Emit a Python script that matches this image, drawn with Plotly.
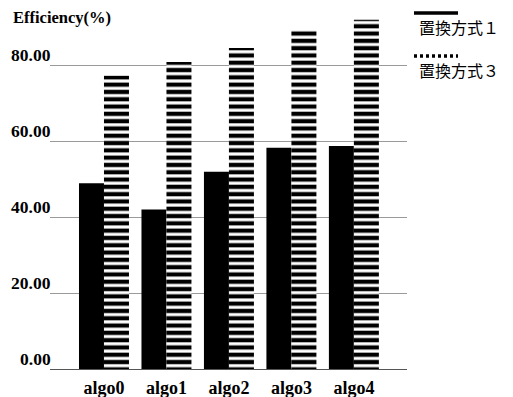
import plotly.graph_objects as go

categories = ["algo0", "algo1", "algo2", "algo3", "algo4"]
method1 = [48.9, 42.0, 51.9, 58.2, 58.7]
method3 = [77.2, 80.8, 84.5, 89.4, 91.9]
series_names = ["置換方式１", "置換方式３"]
y_ticks = [0, 20, 40, 60, 80]
y_tick_text = ["0.00", "20.00", "40.00", "60.00", "80.00"]

serif = '"Liberation Serif", "Times New Roman", serif'
cjk = '"Noto Sans CJK JP", sans-serif'

W, H = 513, 397
L, R, T, B = 50, 106, 8, 28
PW, PH = W - L - R, H - T - B

def px(xp):
    return (xp - L) / PW

def py(yp):
    return (H - B - yp) / PH

fig = go.Figure()
fig.add_trace(go.Bar(
    x=categories, y=method1, name=series_names[0],
    marker=dict(color="black", line=dict(width=0)),
    showlegend=False,
))
fig.add_trace(go.Bar(
    x=categories, y=method3, name=series_names[1],
    marker=dict(color="white", line=dict(width=0),
                pattern=dict(shape="-", fgcolor="black", bgcolor="white",
                             size=7.3, solidity=0.58, fillmode="replace")),
    showlegend=False,
))

annotations = [
    dict(text="<b>Efficiency(%)</b>", xref="paper", yref="paper",
         x=px(11), y=py(18), xanchor="left", yanchor="middle",
         showarrow=False, font=dict(family=serif, size=16.5, color="black")),
    dict(text=series_names[0], xref="paper", yref="paper",
         x=px(417), y=py(27), xanchor="left", yanchor="middle",
         showarrow=False, font=dict(family=cjk, size=16, color="black")),
    dict(text=series_names[1], xref="paper", yref="paper",
         x=px(417), y=py(70), xanchor="left", yanchor="middle",
         showarrow=False, font=dict(family=cjk, size=16, color="black")),
]
for v, t in zip(y_ticks, y_tick_text):
    annotations.append(dict(
        text="<b>" + t + "</b>", xref="paper", yref="y",
        x=px(53), y=v, xanchor="right", yanchor="bottom", yshift=-2,
        showarrow=False, font=dict(family=serif, size=17.5, color="black")))

fig.update_layout(
    width=W, height=H,
    margin=dict(l=L, r=R, t=T, b=B, pad=0),
    paper_bgcolor="white", plot_bgcolor="white",
    barmode="group", bargap=0.2, bargroupgap=0,
    showlegend=False,
    xaxis=dict(
        range=[-0.864, 4.85], showgrid=False, showline=False, ticks="",
        automargin=False,
        tickfont=dict(family=serif, size=18, color="black", weight="bold"),
        ticklabelstandoff=6,
    ),
    yaxis=dict(
        range=[0, 95], tickvals=y_ticks, showticklabels=False,
        automargin=False,
        showgrid=True, gridcolor="#9a9a9a", gridwidth=1,
        zeroline=True, zerolinecolor="#555555", zerolinewidth=1.2,
        showline=False, ticks="",
    ),
    annotations=annotations,
    shapes=[
        dict(type="line", xref="paper", yref="paper",
             x0=px(414), x1=px(458), y0=py(13), y1=py(13),
             line=dict(color="black", width=3.5)),
        dict(type="line", xref="paper", yref="paper",
             x0=px(414), x1=px(458), y0=py(56), y1=py(56),
             line=dict(color="black", width=3.5, dash="3px,3px")),
    ],
)

fig.write_html("out.html",
               config={"displayModeBar": False},
               post_script="document.body.style.margin='0';document.body.style.overflow='hidden';")
